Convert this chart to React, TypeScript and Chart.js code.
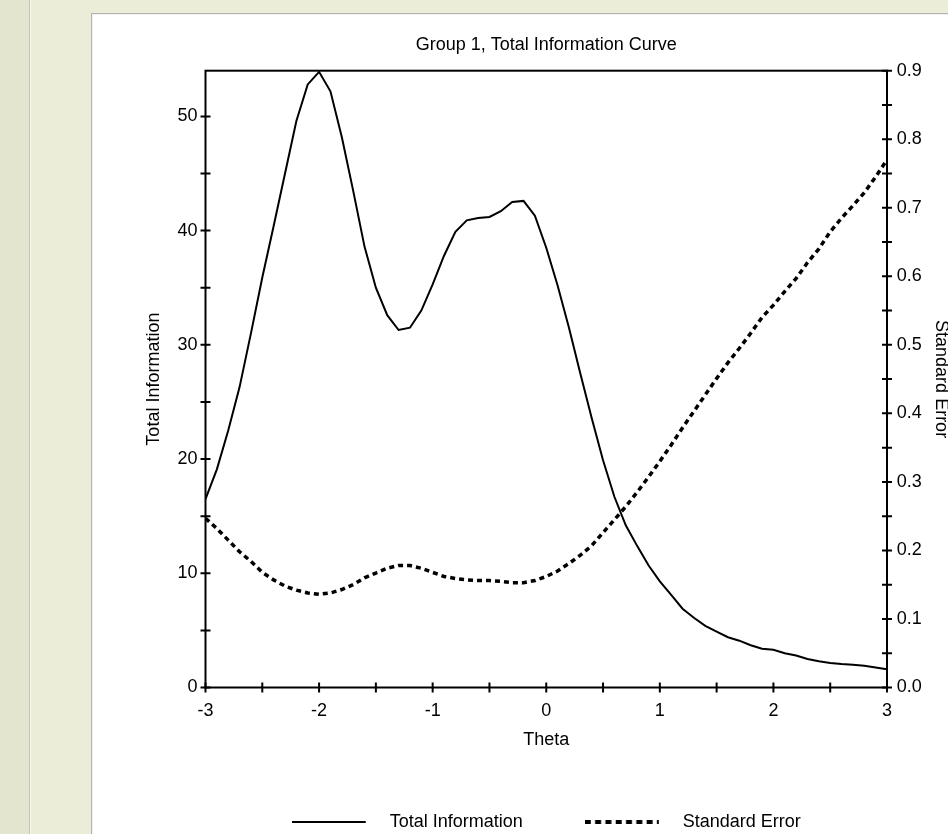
import React, { useEffect, useRef } from 'react';
import { Chart, registerables } from 'chart.js';

Chart.register(...registerables);

const FONT = '"Liberation Sans", Arial, Helvetica, sans-serif';

const chartTitle = 'Group 1, Total Information Curve';
const xAxisTitle = 'Theta';
const leftAxisTitle = 'Total Information';
const rightAxisTitle = 'Standard Error';
const seriesLabels = ['Total Information', 'Standard Error'];

const theta = [
  -3.0, -2.9, -2.8, -2.7, -2.6, -2.5, -2.4, -2.3, -2.2, -2.1,
  -2.0, -1.9, -1.8, -1.7, -1.6, -1.5, -1.4, -1.3, -1.2, -1.1,
  -1.0, -0.9, -0.8, -0.7, -0.6, -0.5, -0.4, -0.3, -0.2, -0.1,
  0.0, 0.1, 0.2, 0.3, 0.4, 0.5, 0.6, 0.7, 0.8, 0.9,
  1.0, 1.1, 1.2, 1.3, 1.4, 1.5, 1.6, 1.7, 1.8, 1.9,
  2.0, 2.1, 2.2, 2.3, 2.4, 2.5, 2.6, 2.7, 2.8, 2.9, 3.0,
];

const totalInformation = [
  16.5, 19.1, 22.5, 26.3, 31.0, 35.9, 40.4, 45.0, 49.6, 52.8,
  53.9, 52.2, 48.2, 43.5, 38.6, 35.0, 32.6, 31.3, 31.5, 33.0,
  35.3, 37.8, 39.9, 40.9, 41.1, 41.2, 41.7, 42.5, 42.6, 41.3,
  38.5, 35.2, 31.5, 27.5, 23.6, 19.9, 16.7, 14.2, 12.4, 10.7,
  9.3, 8.1, 6.9, 6.1, 5.4, 4.9, 4.4, 4.1, 3.7, 3.4,
  3.3, 3.0, 2.8, 2.5, 2.3, 2.15, 2.05, 2.0, 1.9, 1.75, 1.6,
];

const standardError = [
  0.247, 0.232, 0.215, 0.198, 0.184, 0.168, 0.157, 0.148, 0.142, 0.138,
  0.136, 0.138, 0.143, 0.150, 0.160, 0.167, 0.174, 0.178, 0.178, 0.174,
  0.168, 0.162, 0.159, 0.157, 0.156, 0.156, 0.155, 0.153, 0.153, 0.156,
  0.162, 0.170, 0.181, 0.193, 0.207, 0.226, 0.245, 0.264, 0.285, 0.307,
  0.330, 0.354, 0.379, 0.403, 0.427, 0.451, 0.474, 0.495, 0.517, 0.540,
  0.558, 0.578, 0.597, 0.620, 0.640, 0.665, 0.685, 0.703, 0.722, 0.745, 0.770,
];

const xRange = [-3, 3];
const xStep = 0.5;
const leftRange = [0, 54];
const leftStep = 5;
const rightRange = [0, 0.9];
const rightStep = 0.05;

function makeLegendSample(dash: number[], width: number): HTMLCanvasElement {
  const c = document.createElement('canvas');
  c.width = 89;
  c.height = 8;
  const g = c.getContext('2d') as CanvasRenderingContext2D;
  g.strokeStyle = '#000';
  g.lineWidth = width;
  g.setLineDash(dash);
  g.beginPath();
  g.moveTo(0, 4);
  g.lineTo(74, 4);
  g.stroke();
  return c;
}

const backgroundPlugin = {
  id: 'pageBackground',
  beforeDraw(chart: any) {
    const { ctx, width, height } = chart;
    ctx.save();
    ctx.fillStyle = '#ebedd9';
    ctx.fillRect(0, 0, width, height);
    ctx.fillStyle = '#e3e5cf';
    ctx.fillRect(0, 0, 29, height);
    ctx.fillStyle = '#c4c6b2';
    ctx.fillRect(29, 0, 1, height);
    ctx.fillStyle = '#f6f7ee';
    ctx.fillRect(30, 0, 1, height);
    ctx.fillStyle = '#b3b3ad';
    ctx.fillRect(91, 13, width, 1);
    ctx.fillRect(91, 13, 1, height);
    ctx.fillStyle = '#f0f0f6';
    ctx.fillRect(92, 14, width, 1);
    ctx.fillRect(92, 14, 1, height);
    ctx.fillStyle = '#ffffff';
    ctx.fillRect(93, 15, width, height);
    ctx.restore();
  },
};

const frameTicksPlugin = {
  id: 'frameTicks',
  afterDraw(chart: any) {
    const { ctx, chartArea } = chart;
    const { left, right, top, bottom } = chartArea;
    ctx.save();
    ctx.strokeStyle = '#000';
    ctx.lineWidth = 2;
    ctx.strokeRect(left, top, right - left, bottom - top);
    const half = 5;
    ctx.beginPath();
    const xs = chart.scales.x;
    xs.ticks.forEach((t: any) => {
      const p = xs.getPixelForValue(t.value);
      ctx.moveTo(p, bottom - half);
      ctx.lineTo(p, bottom + half);
    });
    const yl = chart.scales.y;
    yl.ticks.forEach((t: any) => {
      const p = yl.getPixelForValue(t.value);
      ctx.moveTo(left - half, p);
      ctx.lineTo(left + half, p);
    });
    const yr = chart.scales.y2;
    yr.ticks.forEach((t: any) => {
      const p = yr.getPixelForValue(t.value);
      ctx.moveTo(right - half, p);
      ctx.lineTo(right + half, p);
    });
    ctx.stroke();
    ctx.restore();
  },
};

export default function App() {
  const ref = useRef<HTMLCanvasElement>(null);

  useEffect(() => {
    if (!ref.current) return;
    const tickFont = { family: FONT, size: 18 };
    const chart = new Chart(ref.current, {
      type: 'line',
      data: {
        datasets: [
          {
            label: seriesLabels[0],
            data: theta.map((t, i) => ({ x: t, y: totalInformation[i] })),
            yAxisID: 'y',
            borderColor: '#000',
            backgroundColor: '#000',
            borderWidth: 2,
            pointRadius: 0,
            pointHoverRadius: 0,
            pointStyle: makeLegendSample([], 2) as any,
            tension: 0,
            fill: false,
          },
          {
            label: seriesLabels[1],
            data: theta.map((t, i) => ({ x: t, y: standardError[i] })),
            yAxisID: 'y2',
            borderColor: '#000',
            backgroundColor: '#000',
            borderWidth: 3.5,
            borderDash: [5, 4],
            pointRadius: 0,
            pointHoverRadius: 0,
            pointStyle: makeLegendSample([6, 4.3], 4) as any,
            tension: 0,
            fill: false,
          },
        ],
      },
      options: {
        responsive: false,
        animation: false,
        devicePixelRatio: 1,
        events: [],
        layout: { padding: { left: 0, right: 0, top: 0, bottom: 19 } },
        plugins: {
          title: {
            display: true,
            text: chartTitle,
            fullSize: false,
            color: '#000',
            font: { family: FONT, size: 18, weight: 'normal' },
            padding: { top: 34.2, bottom: 14.9 },
          },
          legend: {
            display: true,
            position: 'bottom',
            fullSize: false,
            labels: {
              usePointStyle: true,
              pointStyleWidth: 89,
              color: '#000',
              font: { family: FONT, size: 18 },
              padding: 62,
            },
          },
          tooltip: { enabled: false },
        },
        scales: {
          x: {
            type: 'linear',
            position: 'bottom',
            min: xRange[0],
            max: xRange[1],
            grid: { display: false, drawTicks: false, tickLength: 0 },
            border: { display: false },
            ticks: {
              stepSize: xStep,
              autoSkip: false,
              maxRotation: 0,
              minRotation: 0,
              padding: 12.7,
              color: '#000',
              font: tickFont,
              callback: (v: any) => (Number.isInteger(Number(v)) ? String(v) : ''),
            },
            title: {
              display: true,
              text: xAxisTitle,
              color: '#000',
              font: tickFont,
              padding: { top: 0, bottom: 0 },
            },
            afterFit: (s: any) => {
              s.height = 63.5;
            },
          },
          y: {
            type: 'linear',
            position: 'left',
            min: leftRange[0],
            max: leftRange[1],
            grid: { display: false, drawTicks: false, tickLength: 0 },
            border: { display: false },
            ticks: {
              stepSize: leftStep,
              includeBounds: false,
              autoSkip: false,
              maxTicksLimit: 100,
              padding: 8,
              color: '#000',
              font: tickFont,
              callback: (v: any) => (Number(v) % 10 === 0 ? String(v) : ''),
            },
            title: {
              display: true,
              text: leftAxisTitle,
              color: '#000',
              font: tickFont,
              padding: { top: 143.2, bottom: 0 },
            },
            afterFit: (s: any) => {
              s.width = 205.5;
            },
          },
          y2: {
            type: 'linear',
            position: 'right',
            min: rightRange[0],
            max: rightRange[1],
            grid: { display: false, drawTicks: false, tickLength: 0 },
            border: { display: false },
            ticks: {
              stepSize: rightStep,
              autoSkip: false,
              maxTicksLimit: 100,
              padding: 9.7,
              color: '#000',
              font: tickFont,
              callback: (v: any) => {
                const n = Number(v) * 10;
                return Math.abs(n - Math.round(n)) < 1e-6 ? (Math.round(n) / 10).toFixed(1) : '';
              },
            },
            title: {
              display: true,
              text: rightAxisTitle,
              color: '#000',
              font: tickFont,
              padding: { top: 28.7, bottom: 0 },
            },
            afterFit: (s: any) => {
              s.width = 93;
            },
          },
        },
      } as any,
      plugins: [backgroundPlugin, frameTicksPlugin],
    });
    return () => chart.destroy();
  }, []);

  return (
    <div
      style={{
        position: 'fixed',
        left: 0,
        top: 0,
        width: 948,
        height: 834,
        overflow: 'hidden',
        background: '#ebedd9',
      }}
    >
      <canvas ref={ref} width={980} height={860} style={{ display: 'block' }} />
    </div>
  );
}
